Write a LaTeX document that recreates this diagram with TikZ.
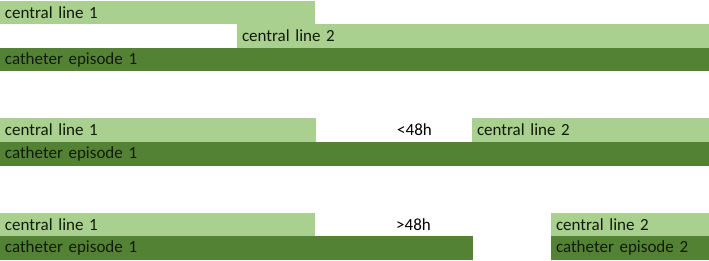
\documentclass[tikz,border=0pt]{standalone}
\usepackage{fontspec}
\setmainfont{Carlito}
\definecolor{lightg}{HTML}{A9D08E}
\definecolor{darkg}{HTML}{548235}
\definecolor{txt}{HTML}{121A0C}
\begin{document}
\begin{tikzpicture}[x=1pt,y=-1pt,
  bar/.style={anchor=north west, inner xsep=5pt, inner ysep=0pt, outer sep=0pt,
    align=left, text=txt, font=\fontsize{17}{20}\selectfont},
  lt/.style={bar, fill=lightg},
  dk/.style={bar, fill=darkg},
  gap/.style={anchor=west, inner sep=0pt, text=black, font=\fontsize{17}{20}\selectfont}]
\path[use as bounding box] (0,0) rectangle (709,261);
% row 1
\node[lt, minimum height=23pt, text width=305pt] (a1) at (0,1) {central line 1};
\node[lt, minimum height=24pt, text width=462pt] (a2) at (237,24) {central line 2};
\node[dk, minimum height=23pt, text width=699pt] (a3) at (0,48) {catheter episode 1};
% row 2
\node[lt, minimum height=24pt, text width=306pt] (b1) at (0,118) {central line 1};
\node[gap] (b2) at (397,130) {<48h};
\node[lt, minimum height=24pt, text width=227pt] (b3) at (472,118) {central line 2};
\node[dk, minimum height=24pt, text width=699pt] (b4) at (0,142) {catheter episode 1};
% row 3
\node[lt, minimum height=23pt, text width=305pt] (c1) at (0,213) {central line 1};
\node[gap] (c2) at (396,224.5) {>48h};
\node[lt, minimum height=23pt, text width=148pt] (c3) at (551,213) {central line 2};
\node[dk, minimum height=24pt, text width=463pt] (c4) at (0,236) {catheter episode 1};
\node[dk, minimum height=24pt, text width=148pt] (c5) at (551,236) {catheter episode 2};
\end{tikzpicture}
\end{document}
